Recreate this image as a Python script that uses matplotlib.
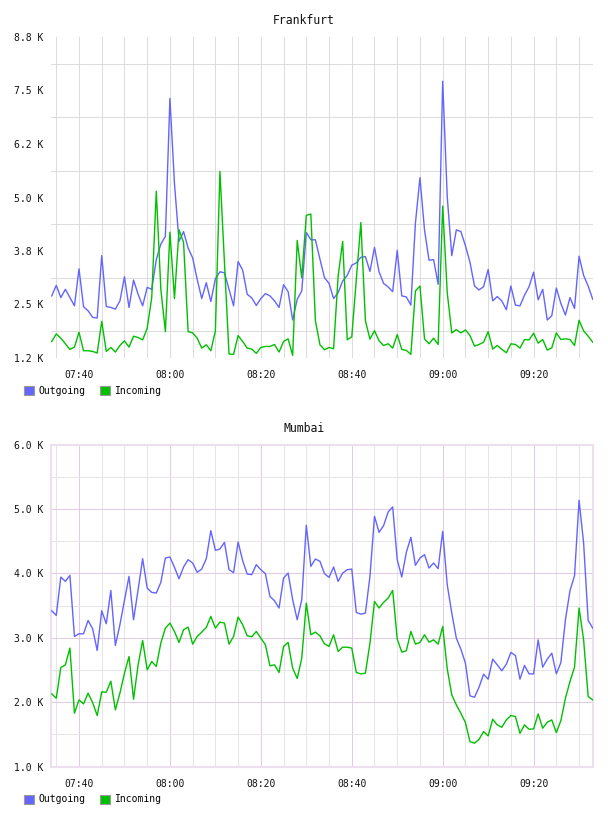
import numpy as np
import matplotlib
matplotlib.use("Agg")
import matplotlib.pyplot as plt
from matplotlib.patches import Patch
from matplotlib.ticker import FixedLocator

# ---------------- data ----------------
START = "07:34"
TIME_TICKS = ["07:40", "08:00", "08:20", "08:40", "09:00", "09:20"]
SERIES = ["Outgoing", "Incoming"]
TITLES = ["Frankfurt", "Mumbai"]

fra_out = [2701, 2947, 2662, 2855, 2662, 2469, 3333, 2446, 2353, 2199,
           2184, 3642, 2454, 2431, 2392, 2585, 3148, 2431, 3071, 2739,
           2469, 2901, 2855, 3549, 3912, 4089, 7315, 5324, 3974, 4205,
           3819, 3588, 3086, 2639, 3009, 2569, 3102, 3264, 3241, 2855,
           2469, 3503, 3302, 2739, 2654, 2477, 2639, 2755, 2701, 2585,
           2431, 2963, 2801, 2137, 2623, 2816, 4182, 4012, 4012, 3560,
           3125, 2994, 2639, 2778, 3048, 3179, 3418, 3472, 3603, 3619,
           3272, 3835, 3264, 2994, 2909, 2801, 3765, 2701, 2677, 2485,
           4398, 5463, 4244, 3534, 3549, 2971, 7716, 5015, 3642, 4244,
           4205, 3873, 3488, 2932, 2840, 2917, 3318, 2585, 2685, 2585,
           2377, 2932, 2485, 2469, 2716, 2917, 3256, 2608, 2855, 2137,
           2238, 2886, 2523, 2253, 2662, 2407, 3627, 3179, 2932, 2623]

fra_in = [1636, 1813, 1713, 1582, 1451, 1505, 1852, 1420, 1420, 1404,
          1366, 2106, 1404, 1497, 1389, 1543, 1651, 1505, 1759, 1728,
          1674, 1944, 2662, 5147, 2855, 1867, 4190, 2639, 4244, 3951,
          1867, 1836, 1713, 1481, 1559, 1420, 1883, 5610, 3472, 1343,
          1335, 1775, 1636, 1481, 1458, 1358, 1497, 1520, 1520, 1566,
          1389, 1636, 1698, 1312, 3997, 3125, 4583, 4614, 2122, 1559,
          1443, 1497, 1466, 3164, 3974, 1674, 1744, 3086, 4414, 2122,
          1690, 1890, 1651, 1543, 1582, 1481, 1798, 1451, 1427, 1335,
          2816, 2932, 1698, 1582, 1713, 1566, 4799, 2778, 1836, 1914,
          1836, 1906, 1775, 1528, 1566, 1620, 1867, 1458, 1543, 1451,
          1373, 1582, 1566, 1481, 1682, 1674, 1829, 1597, 1682, 1435,
          1489, 1836, 1682, 1698, 1682, 1543, 2130, 1883, 1759, 1620]

mum_out = [3420, 3348, 3943, 3876, 3969, 3021, 3063, 3063, 3270, 3140,
           2804, 3420, 3218, 3736, 2881, 3203, 3581, 3954, 3280, 3746,
           4228, 3772, 3705, 3695, 3860, 4239, 4254, 4093, 3917, 4099,
           4213, 4161, 4016, 4068, 4228, 4663, 4358, 4378, 4482, 4057,
           4011, 4487, 4197, 3990, 3980, 4135, 4057, 3995, 3643, 3575,
           3462, 3928, 4005, 3591, 3280, 3591, 4746, 4109, 4223, 4187,
           3995, 3938, 4099, 3876, 4005, 4057, 4067, 3394, 3368, 3384,
           3954, 4886, 4637, 4741, 4953, 5031, 4213, 3943, 4327, 4560,
           4125, 4239, 4290, 4083, 4161, 4073, 4653, 3824, 3384, 2995,
           2824, 2607, 2099, 2078, 2234, 2436, 2358, 2669, 2581, 2488,
           2591, 2773, 2726, 2358, 2571, 2441, 2441, 2969, 2545, 2669,
           2762, 2441, 2617, 3280, 3731, 3964, 5135, 4472, 3270, 3151]

mum_in = [2130, 2063, 2539, 2581, 2840, 1830, 2037, 1975, 2141, 1996,
          1794, 2161, 2156, 2327, 1882, 2141, 2451, 2710, 2047, 2581,
          2959, 2503, 2633, 2555, 2918, 3151, 3228, 3099, 2928, 3125,
          3166, 2902, 3021, 3089, 3161, 3332, 3151, 3244, 3228, 2902,
          3021, 3322, 3203, 3032, 3016, 3099, 2995, 2892, 2565, 2581,
          2462, 2866, 2928, 2529, 2369, 2685, 3539, 3047, 3089, 3030,
          2907, 2866, 3047, 2788, 2855, 2855, 2840, 2462, 2441, 2452,
          2918, 3565, 3462, 3550, 3617, 3736, 2980, 2778, 2798, 3099,
          2902, 2928, 3047, 2933, 2969, 2902, 3177, 2519, 2115, 1959,
          1830, 1685, 1390, 1364, 1426, 1545, 1478, 1737, 1649, 1612,
          1726, 1794, 1778, 1519, 1649, 1581, 1586, 1819, 1597, 1690,
          1726, 1529, 1716, 2063, 2322, 2545, 3462, 2969, 2089, 2037]

fra_yticks = [1250, 2500, 3750, 5000, 6250, 7500, 8750]
mum_yticks = [1000, 2000, 3000, 4000, 5000, 6000]

# ---------------- styling ----------------
COLORS = ["#6464ff", "#00c000"]
FONT = "DejaVu Sans Mono"
plt.rcParams["font.family"] = [FONT, "DejaVu Sans"]

W, H = 608, 816
fig = plt.figure(figsize=(W / 100, H / 100), dpi=100)


def to_min(s):
    h, m = s.split(":")
    return int(h) * 60 + int(m)


start = to_min(START)
n = len(fra_out)
x = np.arange(n)
tick_pos = [to_min(t) - start for t in TIME_TICKS]
five_min = [m for m in range(n) if (start + m) % 5 == 0]


def px_axes(l, t, r, b):
    return fig.add_axes([l / W, 1 - b / H, (r - l) / W, (b - t) / H])


def setup(ax, yticks, purple):
    ax.set_xlim(-0.27, n - 1 + 0.13)
    ax.set_ylim(yticks[0], yticks[-1])
    ax.set_facecolor("white")
    ax.xaxis.set_major_locator(FixedLocator(tick_pos))
    ax.set_xticklabels(TIME_TICKS)
    ax.yaxis.set_major_locator(FixedLocator(yticks))
    ax.set_yticklabels([f"{v / 1000:.1f} K" for v in yticks])
    step = yticks[1] - yticks[0]
    mids = [v + step / 2 for v in yticks[:-1]]
    ax.yaxis.set_minor_locator(FixedLocator(mids))
    ax.xaxis.set_minor_locator(FixedLocator([m for m in five_min if m not in tick_pos]))
    ax.tick_params(which="both", length=0)
    ax.tick_params(axis="x", pad=9, labelsize=7, labelcolor="#111111")
    ax.tick_params(axis="y", pad=5, labelsize=7, labelcolor="#111111")
    lw = 0.75
    if purple:
        ax.grid(True, which="minor", color="#e6e6e6", linewidth=lw)
        ax.grid(True, which="major", color="#e3cce3", linewidth=lw)
        for s in ax.spines.values():
            s.set_color("#eedfee")
            s.set_linewidth(1.5)
    else:
        ax.grid(True, which="minor", color="#dddddd", linewidth=lw)
        ax.xaxis.grid(True, which="major", color="#dddddd", linewidth=lw)
        ax.yaxis.grid(False, which="major")
        for s in ax.spines.values():
            s.set_visible(False)
    ax.set_axisbelow(True)


panels = [
    (TITLES[0], fra_out, fra_in, fra_yticks, False, (50.5, 37, 593.3, 358), 20.7, 386),
    (TITLES[1], mum_out, mum_in, mum_yticks, True, (50.5, 444.5, 593.3, 766.7), 428.3, 794.5),
]

for title, out_v, in_v, yt, purple, box, ty, ly in panels:
    ax = px_axes(*box)
    setup(ax, yt, purple)
    ax.plot(x, out_v, color=COLORS[0], linewidth=1.0, label=SERIES[0], zorder=3)
    ax.plot(x, in_v, color=COLORS[1], linewidth=1.0, label=SERIES[1], zorder=4)
    fig.text(304 / W, 1 - ty / H, title, ha="center", va="center", fontsize=8.3, color="#111111")
    handles = [Patch(facecolor=c, edgecolor="#999999", linewidth=0.8, label=s)
               for c, s in zip(COLORS, SERIES)]
    fig.legend(handles=handles, loc="upper left", bbox_to_anchor=(23.5 / W, 1 - ly / H),
               ncol=2, frameon=False, fontsize=7, handlelength=1.05, handleheight=1.05,
               handletextpad=0.45, columnspacing=1.55, borderpad=0, borderaxespad=0)

fig.savefig("out.png", dpi=100, facecolor="white")
